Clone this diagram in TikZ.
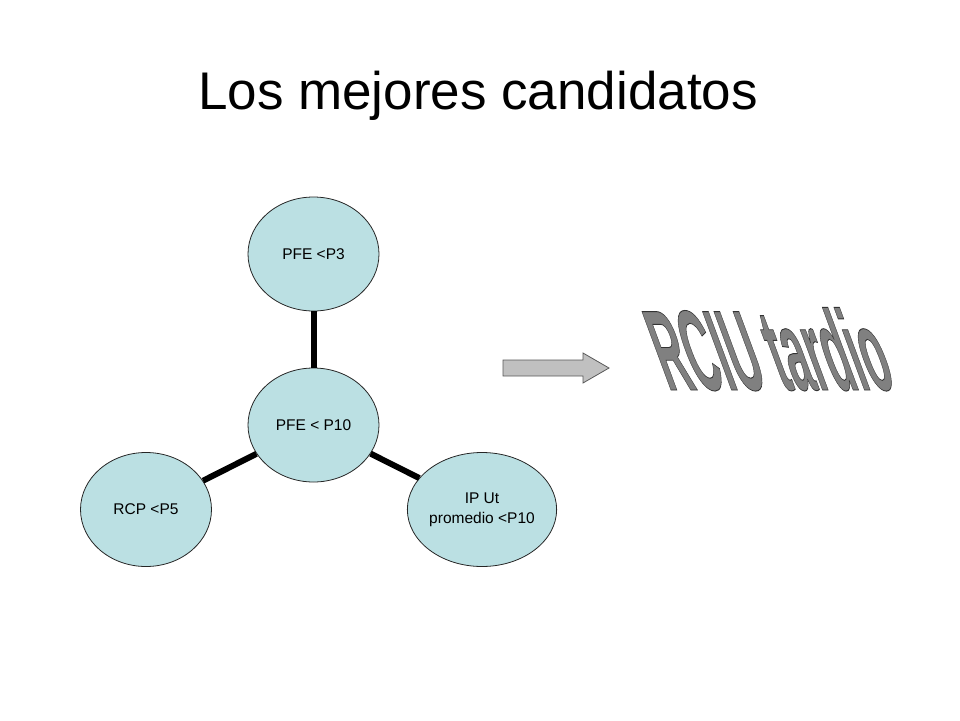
\documentclass[tikz,border=0pt]{standalone}
\usepackage{fontspec}
\setmainfont{Liberation Sans}
\usetikzlibrary{shapes.geometric}

\definecolor{bubblefill}{RGB}{187,224,227}
\definecolor{arrowfill}{RGB}{192,192,192}
\definecolor{wordfill}{RGB}{128,128,128}

\newcommand{\outlined}[1]{\special{pdf:literal direct 2 Tr 0.9 w 0.2 G}#1\special{pdf:literal direct 0 Tr}}

\tikzset{
  bubble/.style={ellipse, draw=black!85, line width=0.8pt, fill=bubblefill,
    minimum width=131pt, minimum height=114pt, inner sep=0pt, align=center,
    font=\fontsize{15.5}{20}\selectfont},
  spoke/.style={line width=6pt},
  wordart/.style={inner sep=0pt, text=wordfill, transform shape,
    font=\fontsize{114}{114}\selectfont\bfseries, cm={0.368,0,-0.37,1,(0,0)}}
}

\begin{document}
\begin{tikzpicture}[x=1pt,y=-1pt]

\useasboundingbox (0,0) rectangle (960,720);

\node[font=\fontsize{53}{60}\selectfont, anchor=base] (title) at (478,109) {Los mejores candidatos};

\node[bubble] (pfe10) at (313.5,425) {PFE < P10};
\node[bubble] (pfe3) at (313.5,254) {PFE <P3};
\node[bubble] (rcp) at (146,509.5) {RCP <P5};
\node[bubble] (iput) at (482,509.5) {IP Ut\\promedio <P10};

\foreach \n in {pfe3,rcp,iput}
\draw[spoke] (pfe10) -- (\n);

\draw[fill=arrowfill, draw=black!65, line width=0.8pt] (503,360) -- (583,360) -- (583,353) -- (609,368)
  -- (583,383) -- (583,376) -- (503,376) -- cycle;

\node[wordart, anchor=base west] (rciu) at (668,390) {\outlined{RCIU tardio}};

\end{tikzpicture}
\end{document}
